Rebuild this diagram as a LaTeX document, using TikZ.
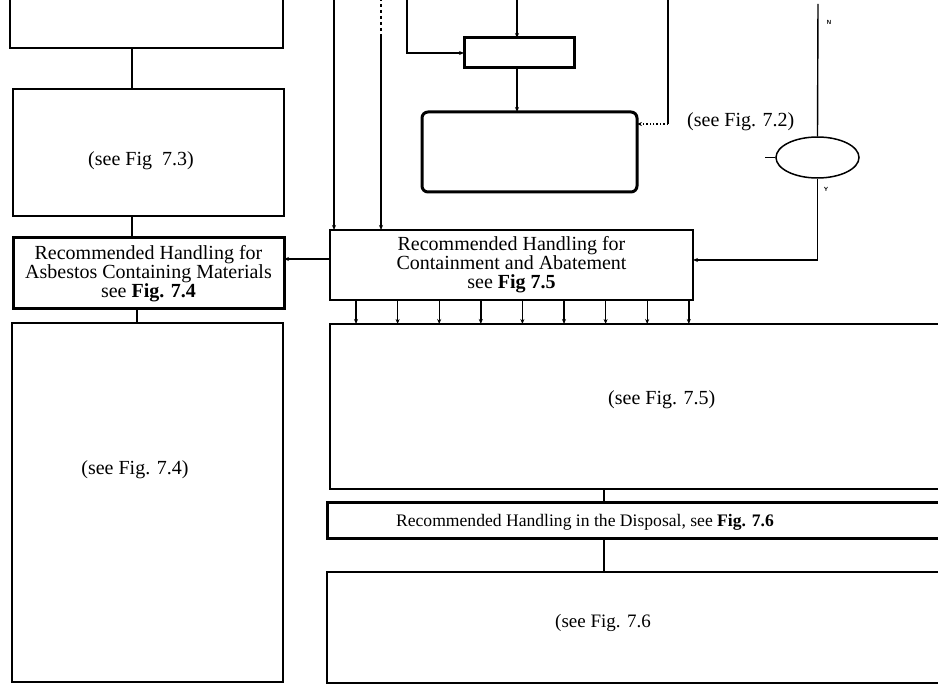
\documentclass[tikz,border=0pt]{standalone}
\usepackage{fontspec}
\setmainfont{Liberation Serif}
\usetikzlibrary{shapes.geometric,arrows.meta}
\begin{document}
\begin{tikzpicture}[x=1pt,y=-1pt,
  box/.style={draw,line width=1.4pt,inner sep=0pt,outer sep=0pt,rectangle},
  thickbox/.style={draw,line width=3pt,inner sep=0pt,outer sep=0pt,rectangle},
  lbl/.style={font=\fontsize{20}{19}\selectfont,align=center,inner sep=0pt},
  conn/.style={line width=1.4pt},
  arr/.style={conn,-{Stealth[length=5pt,width=4pt]}},
  tinylbl/.style={font=\fontsize{6}{6}\selectfont\sffamily\bfseries,inner sep=0pt}]
\useasboundingbox (0,0) rectangle (938,684);
% boxes
\node[box,minimum width=273pt,minimum height=80pt] (top) at (146.5,8) {};
\node[box,minimum width=271pt,minimum height=127pt] (b73) at (148.5,152.5) {};
\node[lbl] (t73) at (141,161) {(see Fig\ \ 7.3)};
\node[thickbox,minimum width=271pt,minimum height=71pt,lbl] (asb) at (148.5,273.5)
  {Recommended Handling for\\Asbestos Containing Materials\\see \textbf{Fig. 7.4}};
\node[box,minimum width=271pt,minimum height=359pt] (b74) at (147.5,502.5) {};
\node[lbl] (t74) at (135,470) {(see Fig. 7.4)};
\node[box,line width=1.6pt,minimum width=363pt,minimum height=70pt,lbl] (cont) at (511.5,265)
  {Recommended Handling for\\Containment and Abatement\\see \textbf{Fig 7.5}};
\node[thickbox,minimum width=110pt,minimum height=30pt] (small) at (519,53) {};
\node[thickbox,rounded corners=6pt,minimum width=215pt,minimum height=80pt] (round) at (529.5,152) {};
\node[lbl,anchor=west] (t72) at (687,122) {(see Fig. 7.2)};
\node[draw,line width=1.5pt,ellipse,inner sep=0pt,minimum width=83pt,minimum height=41pt] (dec) at (817.5,157.5) {};
\node[box,minimum width=620pt,minimum height=165pt] (b75) at (640,406.5) {};
\node[lbl,anchor=west] (t75) at (608,400) {(see Fig. 7.5)};
\node[thickbox,minimum width=623pt,minimum height=36pt] (disp) at (638.5,521) {};
\node[lbl,font=\fontsize{17.6}{18}\selectfont] (tdisp) at (585,522)
  {Recommended Handling in the Disposal, see \textbf{Fig. 7.6}};
\node[box,minimum width=623pt,minimum height=111pt] (b76) at (638.5,627.5) {};
\node[lbl,font=\fontsize{19}{19}\selectfont] (t76) at (603,623) {(see Fig. 7.6};
% helper coordinates
\coordinate (x132) at (132,0);
\coordinate (x137) at (137,0);
\coordinate (y259) at (0,259);
\coordinate (y260) at (0,260);
\coordinate (y124) at (0,124);
\coordinate (y53) at (0,53);
\coordinate (x517) at (517,0);
\coordinate (x604) at (604,0);
\coordinate (in1) at (334,-2);
\coordinate (in2) at (381,-2);
\coordinate (in2b) at (381,36);
\coordinate (in3) at (407,-2);
\coordinate (in4) at (517,-2);
\coordinate (in5) at (668,-2);
\coordinate (in6) at (818,4);
\coordinate (tick) at (765,157.5);
% connectors left column
\draw[conn] (top.south -| x132) -- (b73.north -| x132);
\draw[conn] (b73.south -| x132) -- (asb.north -| x132);
\draw[conn] (asb.south -| x137) -- (b74.north -| x137);
\draw[arr] (cont.west |- y259) -- (asb.east |- y259);
% connectors into containment box
\draw[arr] (in1) -- (cont.north -| in1);
\draw[conn,dashed] (in2) -- (in2b);
\draw[arr] (in2b) -- (cont.north -| in2);
\draw[arr] (in3) -- (in3 |- y53) -- (small.west);
\draw[arr] (in4) -- (small.north -| in4);
\draw[arr] (small.south -| x517) -- (round.north -| x517);
\draw[conn] (in5) -- (in5 |- y124);
\draw[arr,dotted] (in5 |- y124) -- (round.east |- y124);
\draw[conn] (in6) -- (dec.north);
\node[tinylbl] (lN) at (829,22) {N};
\draw[conn] (dec.west) -- (tick);
\draw[arr] (dec.south) -- (dec.south |- y260) -- (cont.east |- y260);
\node[tinylbl] (lY) at (826,189) {Y};
% containment to 7.5
\foreach \i in {0,...,8} {
  \pgfmathsetmacro\xx{356+41.6*\i}
  \coordinate (v\i) at (\xx,0);
  \draw[arr] (cont.south -| v\i) -- (b75.north -| v\i);
}
\draw[conn] (b75.south -| x604) -- (disp.north -| x604);
\draw[conn] (disp.south -| x604) -- (b76.north -| x604);
\end{tikzpicture}
\end{document}
